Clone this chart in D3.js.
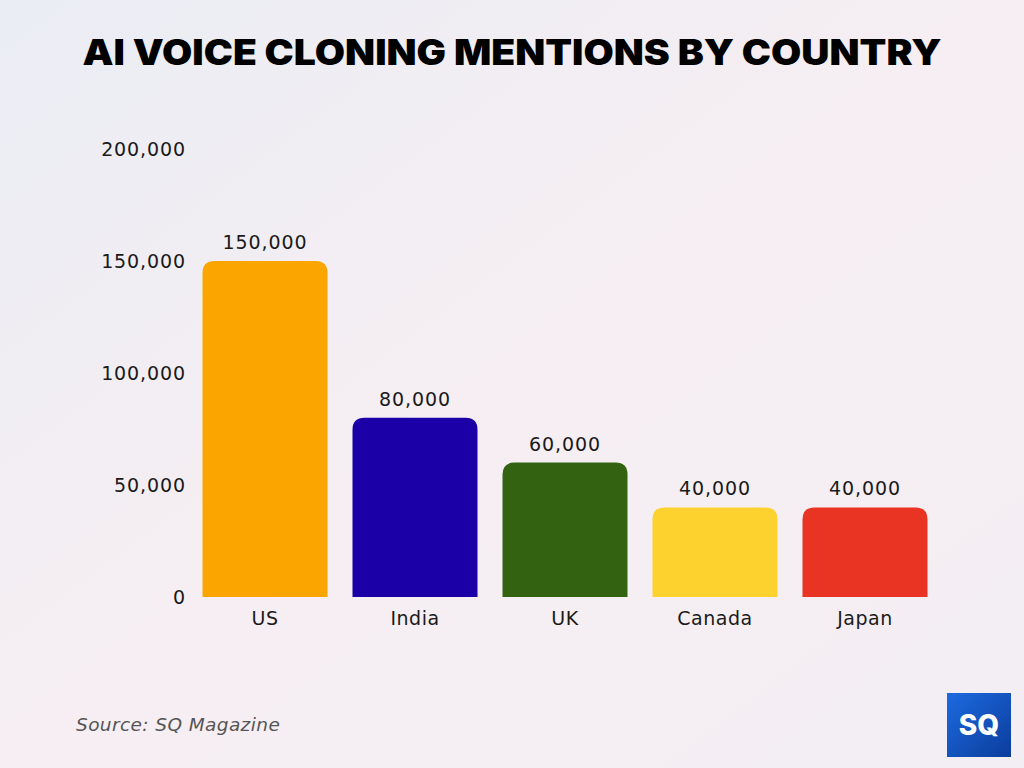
<!DOCTYPE html>
<html><head><meta charset="utf-8">
<script src="https://cdn.jsdelivr.net/npm/d3@7"></script>
<style>html,body{margin:0;padding:0;}svg{display:block;}</style>
</head><body>
<script>
const categories = ["US", "India", "UK", "Canada", "Japan"];
const values = [150000, 80000, 60000, 40000, 40000];
const colors = ["#FBA500", "#1B00A8", "#336210", "#FDD22F", "#E93323"];
const yTicks = [0, 50000, 100000, 150000, 200000];
const title = "AI VOICE CLONING MENTIONS BY COUNTRY";
const source = "Source: SQ Magazine";

const W = 1024, H = 768;
const svg = d3.select("body").append("svg").attr("width", W).attr("height", H);
const defs = svg.append("defs");
const bg = defs.append("linearGradient").attr("id","bg").attr("x1","0").attr("y1","0").attr("x2","1").attr("y2","1");
bg.append("stop").attr("offset","0%").attr("stop-color","#eaedf4");
bg.append("stop").attr("offset","50%").attr("stop-color","#f6eef2");
bg.append("stop").attr("offset","100%").attr("stop-color","#f3eef4");
svg.append("rect").attr("width",W).attr("height",H).attr("fill","url(#bg)");

svg.append("text").attr("x",512).attr("y",65).attr("text-anchor","middle")
  .attr("font-family","Inter, 'DejaVu Sans', sans-serif").attr("font-weight",900)
  .attr("font-size",35).attr("fill","#000").text(title)
  .attr("textLength", 859).attr("lengthAdjust","spacingAndGlyphs");

const x = d3.scaleBand().domain(categories).range([190, 940]).paddingInner(1/6).paddingOuter(1/12);
const y = d3.scaleLinear().domain([0, 200000]).range([597, 149]);

const font = "'DejaVu Sans', 'Open Sans', sans-serif";
const fs = 19;
const yAxis = d3.axisLeft(y).tickValues(yTicks).tickFormat(d3.format(",")).tickSize(0).tickPadding(0);
const ya = svg.append("g").attr("transform","translate(186,0)").call(yAxis);
ya.select(".domain").remove();
ya.selectAll("text").attr("font-family",font).attr("font-size",fs).attr("fill","#1a1a1a").attr("dy","0.35em").attr("letter-spacing",0.9);

const xAxis = d3.axisBottom(x).tickSize(0).tickPadding(0);
const xa = svg.append("g").attr("transform","translate(0,597)").call(xAxis);
xa.select(".domain").remove();
xa.selectAll("text").attr("font-family",font).attr("font-size",fs).attr("fill","#1a1a1a").attr("dy","0").attr("y",28).attr("letter-spacing",0.5);

const r = 12;
function barPath(x0, w, yTop, yBot){
  const rr = Math.min(r, (yBot-yTop));
  return `M${x0},${yBot}V${yTop+rr}Q${x0},${yTop} ${x0+rr},${yTop}H${x0+w-rr}Q${x0+w},${yTop} ${x0+w},${yTop+rr}V${yBot}Z`;
}
svg.append("g").selectAll("path").data(categories).join("path")
  .attr("d",(c,i)=>barPath(x(c), x.bandwidth(), y(values[i]), y(0)))
  .attr("fill",(c,i)=>colors[i]);

svg.append("g").selectAll("text").data(categories).join("text")
  .attr("x",c=>x(c)+x.bandwidth()/2).attr("y",(c,i)=>y(values[i])-12)
  .attr("text-anchor","middle").attr("font-family",font).attr("font-size",fs).attr("fill","#1a1a1a")
  .attr("letter-spacing",0.9)
  .text((c,i)=>d3.format(",")(values[i]));

svg.append("text").attr("x",76).attr("y",731).attr("font-family",font).attr("font-style","italic")
  .attr("font-size",18.5).attr("fill","#555").attr("letter-spacing",0.4).text(source);

const lg = defs.append("linearGradient").attr("id","logo").attr("x1","0").attr("y1","0").attr("x2","1").attr("y2","1");
lg.append("stop").attr("offset","0%").attr("stop-color","#1d6ae0");
lg.append("stop").attr("offset","100%").attr("stop-color","#0b3d9c");
svg.append("rect").attr("x",947).attr("y",693).attr("width",64).attr("height",64).attr("fill","url(#logo)");
svg.append("text").attr("x",979).attr("y",735).attr("text-anchor","middle")
  .attr("font-family","Inter, sans-serif").attr("font-weight",800).attr("font-size",28)
  .attr("fill","#fff").text("SQ");
</script>
</body></html>
